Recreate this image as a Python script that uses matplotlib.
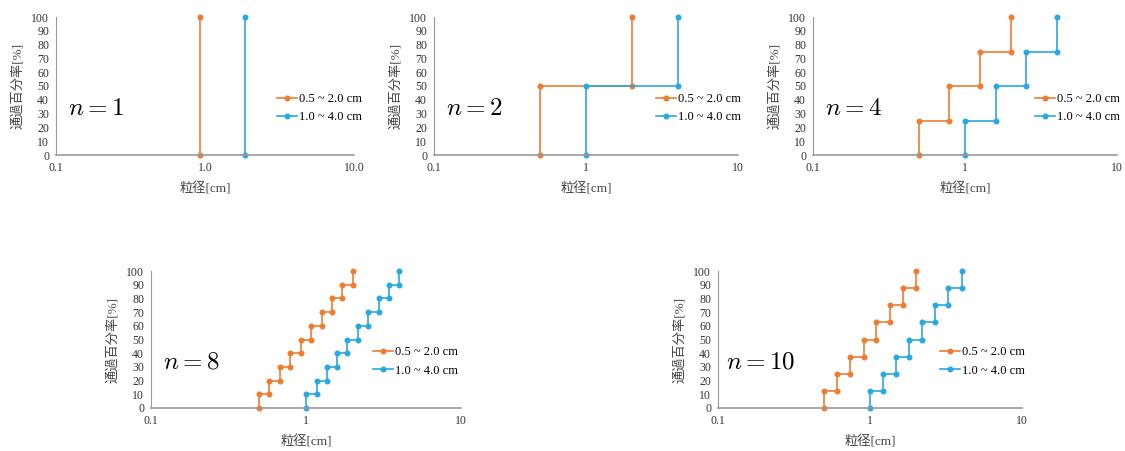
import numpy as np
import matplotlib
matplotlib.use('Agg')
import matplotlib.pyplot as plt

plt.rcParams['font.family'] = ['Liberation Serif', 'Noto Sans CJK JP']
plt.rcParams['mathtext.fontset'] = 'cm'

# 各パネルの分割数
n_labels = ['1', '2', '4', '8', '10']

# 粒径[cm]（階段の縦線の位置）
orange_x = [
    [0.93],
    [0.5, 2.0],
    [0.5, 0.79, 1.26, 2.0],
    [0.5, 0.58, 0.68, 0.79, 0.93, 1.08, 1.26, 1.47, 1.71, 2.0],
    [0.5, 0.61, 0.74, 0.91, 1.10, 1.35, 1.64, 2.0],
]
blue_x = [
    [1.86],
    [1.0, 4.0],
    [1.0, 1.59, 2.52, 4.0],
    [1.0, 1.17, 1.36, 1.59, 1.85, 2.16, 2.52, 2.94, 3.43, 4.0],
    [1.0, 1.22, 1.49, 1.81, 2.21, 2.69, 3.28, 4.0],
]
# 通過百分率[%]（各段の高さ）
levels = [
    [0, 100],
    [0, 50, 100],
    [0, 25, 50, 75, 100],
    [0, 10, 20, 30, 40, 50, 60, 70, 80, 90, 100],
    [0, 12.5, 25, 37.5, 50, 62.5, 75, 87.5, 100],
]
series_names = ['0.5 ~ 2.0 cm', '1.0 ~ 4.0 cm']
xtick_labels = [['0.1', '1.0', '10.0'], ['0.1', '1', '10'], ['0.1', '1', '10'],
                ['0.1', '1', '10'], ['0.1', '1', '10']]

c_orange = '#EE7D31'
c_blue = '#2AA8E0'
grey = '#999999'

W, H = 1125, 451
# パネル位置 [left, top, right, bottom] (px)
boxes = [(56, 17, 354, 155), (434, 17, 738, 155), (813, 17, 1117, 155),
         (151, 271, 461, 408), (718, 271, 1022, 408)]
leg_x = [0.74, 0.73, 0.73, 0.715, 0.73]
n_x = [0.04, 0.04, 0.04, 0.04, 0.025]


def steps(xs, ys):
    px, py = [], []
    for i, x in enumerate(xs):
        px += [x, x]
        py += [ys[i], ys[i + 1]]
    return px, py


fig = plt.figure(figsize=(W / 100, H / 100), dpi=100)

for k in range(5):
    l, t, r, b = boxes[k]
    ax = fig.add_axes([l / W, 1 - b / H, (r - l) / W, (b - t) / H])
    for xs, col, name in [(orange_x[k], c_orange, series_names[0]),
                          (blue_x[k], c_blue, series_names[1])]:
        px, py = steps(xs, levels[k])
        ax.plot(px, py, color=col, lw=1.2, marker='o', ms=3.3, label=name,
                clip_on=False)

    ax.set_xscale('log')
    ax.set_xlim(0.1, 10)
    ax.set_ylim(0, 100)
    ax.set_xticks([0.1, 1, 10])
    ax.set_xticklabels(xtick_labels[k])
    ax.xaxis.set_minor_locator(matplotlib.ticker.NullLocator())
    ax.set_yticks(np.arange(0, 101, 10))
    ax.tick_params(length=0, labelsize=8.5, colors='#333333', pad=5)
    for s in ['top', 'right']:
        ax.spines[s].set_visible(False)
    ax.spines['left'].set_color(grey)
    ax.spines['left'].set_linewidth(0.8)
    ax.spines['bottom'].set_color(grey)
    ax.spines['bottom'].set_linewidth(1.2)
    ax.set_xlabel('粒径[cm]', fontsize=9.5, color='#444444', labelpad=6,
                  family=['Liberation Serif', 'Noto Sans CJK JP'])
    ax.set_ylabel('通過百分率[%]', fontsize=9.5, color='#444444', labelpad=5,
                  family=['Liberation Serif', 'Noto Sans CJK JP'])
    ax.text(n_x[k], 0.33, '$n = %s$' % n_labels[k], transform=ax.transAxes,
            fontsize=18, va='center', ha='left')
    ax.legend(loc='center left', bbox_to_anchor=(leg_x[k], 0.34), frameon=False,
              fontsize=9, handlelength=1.6, handletextpad=0.2, labelspacing=0.5,
              borderaxespad=0, borderpad=0)

fig.savefig('out.png', dpi=100, facecolor='white')
